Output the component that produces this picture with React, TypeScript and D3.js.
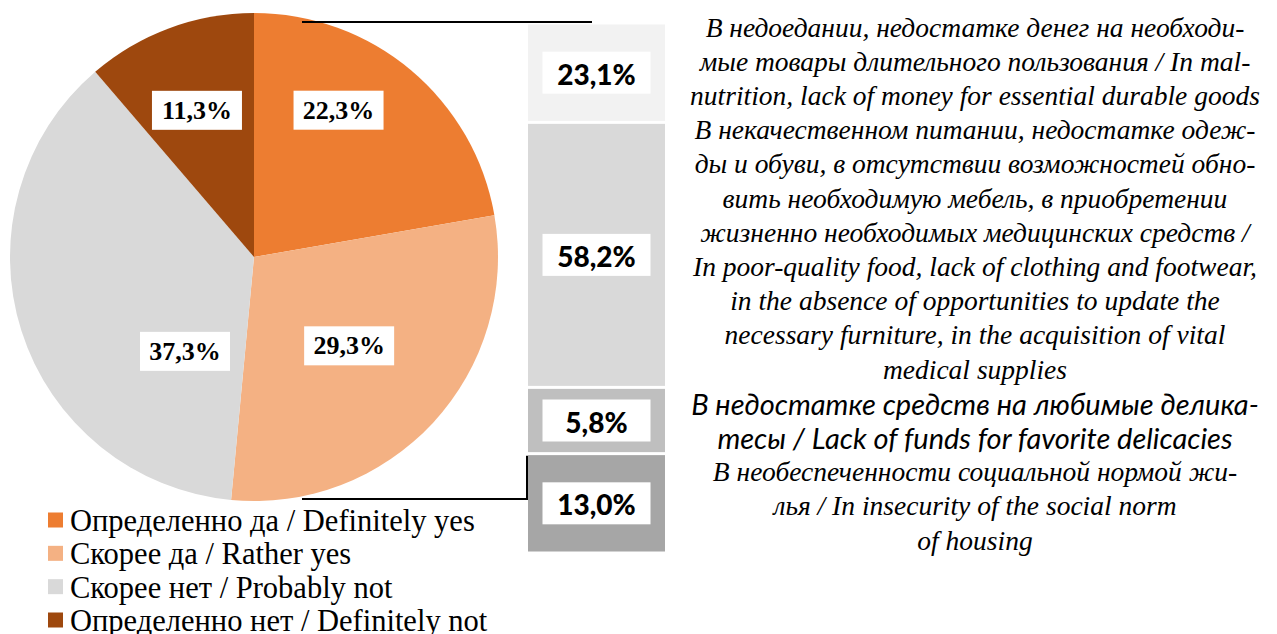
import * as d3 from 'd3'

const W = 1277
const H = 634

// pie data
const PIE_LABELS = [
  'Определенно да / Definitely yes',
  'Скорее да / Rather yes',
  'Скорее нет / Probably not',
  'Определенно нет / Definitely not',
]
const PIE_VALUES = [22.3, 29.3, 37.3, 11.3]
const PIE_COLORS = ['#ED7D31', '#F4B183', '#D9D9D9', '#9E480E']

// bar data
const BAR_VALUES = [23.1, 58.2, 5.8, 13.0]
const BAR_COLORS = ['#F2F2F2', '#D9D9D9', '#BFBFBF', '#A6A6A6']
const BAR_TEXT = [
  [
    'В недоедании, недостатке денег на необходи-',
    'мые товары длительного пользования / In mal-',
    'nutrition, lack of money for essential durable goods',
  ],
  [
    'В некачественном питании, недостатке одеж-',
    'ды и обуви, в отсутствии возможностей обно-',
    'вить необходимую мебель, в приобретении',
    'жизненно необходимых медицинских средств /',
    'In poor-quality food, lack of clothing and footwear,',
    'in the absence of opportunities to update the',
    'necessary furniture, in the acquisition of vital',
    'medical supplies',
  ],
  [
    'В недостатке средств на любимые делика-',
    'тесы / Lack of funds for favorite delicacies',
  ],
  [
    'В необеспеченности социальной нормой жи-',
    'лья / In insecurity of the social norm',
    'of housing',
  ],
]
const BAR_TEXT_SANS = [false, false, true, false]

// label nudges (layout only)
const PIE_LABEL_NUDGE: [number, number][] = [
  [-12, -32],
  [-15, -13],
  [74, 49],
  [-5, -6],
]

const SERIF = "'Liberation Serif', 'Times New Roman', serif"
const SANS = "Lato, 'Open Sans', sans-serif"

const fmt = (v: number) => d3.format('.1f')(v).replace('.', ',') + '%'

export default function App() {
  const cx = 254
  const cy = 257
  const R = 244

  const pie = d3
    .pie<number>()
    .sort(null)
    .value((d) => d)
  const arcs = pie(PIE_VALUES)
  const arc = d3.arc<d3.PieArcDatum<number>>().innerRadius(0).outerRadius(R)
  const labelArc = d3
    .arc<d3.PieArcDatum<number>>()
    .innerRadius(150)
    .outerRadius(150)

  // bar layout follows the description blocks
  const lineCounts = BAR_TEXT.map((t) => t.length)
  const cum = d3.cumsum(lineCounts)
  const totalLines = cum[cum.length - 1]
  const barY = d3.scaleLinear().domain([0, totalLines]).range([23, 553])
  const textY = d3.scaleLinear().domain([0, totalLines - 1]).range([27, 540])
  const barX0 = 528
  const barX1 = 665
  const barMid = (barX0 + barX1) / 2
  const textX = 975

  const segs = BAR_VALUES.map((v, i) => {
    const start = i === 0 ? 0 : cum[i - 1]
    const end = cum[i]
    return { v, i, y0: barY(start), y1: barY(end), start }
  })

  const legendY = d3
    .scalePoint<number>()
    .domain(d3.range(PIE_LABELS.length))
    .range([520, 620])

  return (
    <div style={{ position: 'absolute', left: 0, top: 0 }}>
      <svg width={W} height={H} style={{ display: 'block', background: '#fff' }}>
        <g transform={`translate(${cx},${cy})`}>
          {arcs.map((a, i) => (
            <path key={i} d={arc(a) ?? undefined} fill={PIE_COLORS[i]} />
          ))}
          {arcs.map((a, i) => {
            const [lx, ly] = labelArc.centroid(a)
            const x = lx + PIE_LABEL_NUDGE[i][0]
            const y = ly + PIE_LABEL_NUDGE[i][1]
            return (
              <g key={i} transform={`translate(${x},${y})`}>
                <rect x={-45} y={-19.5} width={90} height={39} fill="#fff" />
                <text
                  textAnchor="middle"
                  dominantBaseline="central"
                  fontFamily={SERIF}
                  fontWeight="bold"
                  fontSize={26}
                  fill="#000"
                >
                  {fmt(PIE_VALUES[i])}
                </text>
              </g>
            )
          })}
        </g>

        {/* connector lines */}
        <line x1={302} x2={592} y1={22} y2={22} stroke="#000" strokeWidth={2} />
        <polyline
          points={`302,499 ${barX0 - 1},499 ${barX0 - 1},${segs[3].y0 + 2}`}
          fill="none"
          stroke="#000"
          strokeWidth={2}
        />

        {/* stacked bar */}
        {segs.map((s) => {
          const my = (s.y0 + s.y1) / 2
          return (
            <g key={s.i}>
              <rect
                x={barX0}
                width={barX1 - barX0}
                y={s.y0 + 1.5}
                height={s.y1 - s.y0 - 3}
                fill={BAR_COLORS[s.i]}
              />
              <rect x={barMid - 54} width={108} y={my - 21} height={42} fill="#fff" />
              <text
                x={barMid}
                y={my + 1}
                textAnchor="middle"
                dominantBaseline="central"
                fontFamily={SANS}
                fontWeight={900}
                fontSize={28}
                fill="#000"
              >
                {fmt(s.v)}
              </text>
            </g>
          )
        })}

        {/* descriptions */}
        {segs.map((s) =>
          BAR_TEXT[s.i].map((line, j) => (
            <text
              key={`${s.i}-${j}`}
              x={textX}
              y={textY(s.start + j)}
              textAnchor="middle"
              dominantBaseline="central"
              fontFamily={BAR_TEXT_SANS[s.i] ? SANS : SERIF}
              fontStyle="italic"
              fontSize={BAR_TEXT_SANS[s.i] ? 29 : 27.5}
              fill="#000"
            >
              {line}
            </text>
          )),
        )}

        {/* legend */}
        {PIE_LABELS.map((label, i) => (
          <g key={i} transform={`translate(48,${legendY(i)})`}>
            <rect x={0} y={-7.5} width={15} height={15} fill={PIE_COLORS[i]} />
            <text
              x={22}
              y={1}
              dominantBaseline="central"
              fontFamily={SERIF}
              fontSize={30.5}
              fill="#000"
            >
              {label}
            </text>
          </g>
        ))}
      </svg>
    </div>
  )
}
